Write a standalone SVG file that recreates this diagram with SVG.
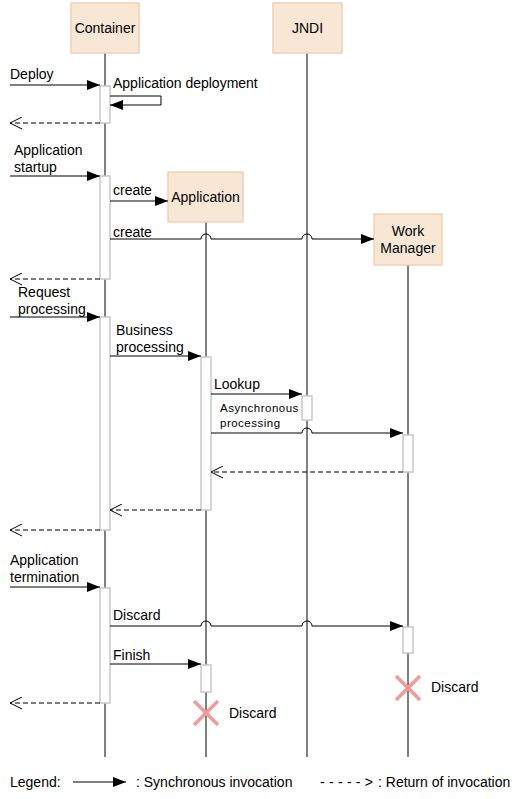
<svg xmlns="http://www.w3.org/2000/svg" width="521" height="799" viewBox="0 0 521 799">
<style>
text{font-family:"Liberation Sans",Arial,sans-serif;font-size:14px;fill:#000}
.small{font-size:11.5px;letter-spacing:0.5px}
.box{fill:#F9E7D6;stroke:#EFD2B6;stroke-width:1.5}
.life{stroke:#000;stroke-width:1;fill:none}
.act{fill:#fff;stroke:#C8C8C8;stroke-width:1.5}
.msg{stroke:#000;stroke-width:1;fill:none}
.ret{stroke:#000;stroke-width:1;fill:none;stroke-dasharray:5,3}
.x{stroke:#F49A9A;stroke-width:3.5}
</style>
<defs>
<marker id="sync" markerUnits="userSpaceOnUse" markerWidth="14" markerHeight="10" refX="13" refY="5" orient="auto">
<path d="M0,0 L13,5 L0,10 Z" fill="#000"/>
</marker>
<marker id="open" markerUnits="userSpaceOnUse" markerWidth="13" markerHeight="13" refX="12" refY="6.5" orient="auto">
<path d="M0,0.5 L12,6.5 L0,12.5" fill="none" stroke="#000" stroke-width="1"/>
</marker>
</defs>
<rect width="521" height="799" fill="#fff"/>

<g id="lifelines">
<line class="life" x1="105" y1="53" x2="105" y2="757"/>
<line class="life" x1="307" y1="53" x2="307" y2="757"/>
<line class="life" x1="206" y1="222" x2="206" y2="757"/>
<line class="life" x1="408" y1="265" x2="408" y2="757"/>
</g>

<g id="container">
<rect class="box" x="71" y="3" width="68" height="50"/>
<text x="105" y="33" text-anchor="middle">Container</text>
</g>
<g id="jndi">
<rect class="box" x="273" y="3" width="69" height="50"/>
<text x="307.5" y="33" text-anchor="middle">JNDI</text>
</g>
<g id="application">
<rect class="box" x="168" y="172" width="75" height="50"/>
<text x="205.5" y="202" text-anchor="middle">Application</text>
</g>
<g id="workmanager">
<rect class="box" x="374" y="214" width="68" height="51"/>
<text x="408" y="236" text-anchor="middle">Work</text>
<text x="408" y="253" text-anchor="middle">Manager</text>
</g>

<g id="activations">
<rect class="act" x="100" y="86" width="10" height="37"/>
<rect class="act" x="100" y="176" width="10" height="103"/>
<rect class="act" x="100" y="317" width="10" height="213"/>
<rect class="act" x="100" y="588" width="10" height="115"/>
<rect class="act" x="201" y="357" width="10" height="153"/>
<rect class="act" x="201" y="665" width="10" height="27"/>
<rect class="act" x="302" y="396" width="10" height="24"/>
<rect class="act" x="403" y="435" width="10" height="37"/>
<rect class="act" x="403" y="627" width="10" height="26"/>
</g>

<g id="connectors">
<line class="msg" x1="10" y1="85" x2="100" y2="85" marker-end="url(#sync)"/>
<path class="msg" d="M110,96 H161 V105 H110" marker-end="url(#sync)"/>
<line class="ret" x1="100" y1="123" x2="10" y2="123" marker-end="url(#open)"/>

<line class="msg" x1="10" y1="176" x2="100" y2="176" marker-end="url(#sync)"/>
<line class="msg" x1="110" y1="201" x2="168" y2="201" marker-end="url(#sync)"/>
<path class="msg" d="M110,239 H201 A5,5 0 0 1 211,239 H302 A5,5 0 0 1 312,239 H374" marker-end="url(#sync)"/>
<line class="ret" x1="100" y1="279" x2="10" y2="279" marker-end="url(#open)"/>

<line class="msg" x1="10" y1="317" x2="100" y2="317" marker-end="url(#sync)"/>
<line class="msg" x1="110" y1="356" x2="201" y2="356" marker-end="url(#sync)"/>
<line class="msg" x1="211" y1="394" x2="302" y2="394" marker-end="url(#sync)"/>
<path class="msg" d="M211,433 H302 A5,5 0 0 1 312,433 H403" marker-end="url(#sync)"/>
<line class="ret" x1="403" y1="472" x2="211" y2="472" marker-end="url(#open)"/>
<line class="ret" x1="201" y1="510" x2="110" y2="510" marker-end="url(#open)"/>
<line class="ret" x1="100" y1="530" x2="10" y2="530" marker-end="url(#open)"/>

<line class="msg" x1="10" y1="587" x2="100" y2="587" marker-end="url(#sync)"/>
<path class="msg" d="M110,626 H201 A5,5 0 0 1 211,626 H302 A5,5 0 0 1 312,626 H403" marker-end="url(#sync)"/>
<line class="msg" x1="110" y1="664" x2="201" y2="664" marker-end="url(#sync)"/>
<line class="ret" x1="100" y1="703" x2="10" y2="703" marker-end="url(#open)"/>
</g>

<g id="labels">
<text x="10" y="79">Deploy</text>
<text x="113" y="88">Application deployment</text>
<text x="14" y="155">Application</text>
<text x="14" y="172">startup</text>
<text x="113" y="195">create</text>
<text x="113" y="237">create</text>
<text x="18" y="297">Request</text>
<text x="18" y="314">processing</text>
<text x="116" y="335">Business</text>
<text x="116" y="352">processing</text>
<text x="214" y="389">Lookup</text>
<text class="small" x="220" y="412">Asynchronous</text>
<text class="small" x="220" y="427">processing</text>
<text x="10" y="565">Application</text>
<text x="10" y="582">termination</text>
<text x="113" y="620">Discard</text>
<text x="113" y="660">Finish</text>
</g>

<g id="destroy-application">
<line class="x" x1="194" y1="701" x2="218" y2="725"/>
<line class="x" x1="218" y1="701" x2="194" y2="725"/>
<text x="229" y="718">Discard</text>
</g>
<g id="destroy-workmanager">
<line class="x" x1="396" y1="676" x2="420" y2="700"/>
<line class="x" x1="420" y1="676" x2="396" y2="700"/>
<text x="431" y="692">Discard</text>
</g>

<g id="legend">
<text x="10" y="787">Legend:</text>
<line class="msg" x1="73" y1="782" x2="126" y2="782" marker-end="url(#sync)"/>
<text x="136" y="787">: Synchronous invocation</text>
<text x="320" y="787" textLength="53" lengthAdjust="spacing">-----&gt;</text>
<text x="378" y="787">: Return of invocation</text>
</g>
</svg>
